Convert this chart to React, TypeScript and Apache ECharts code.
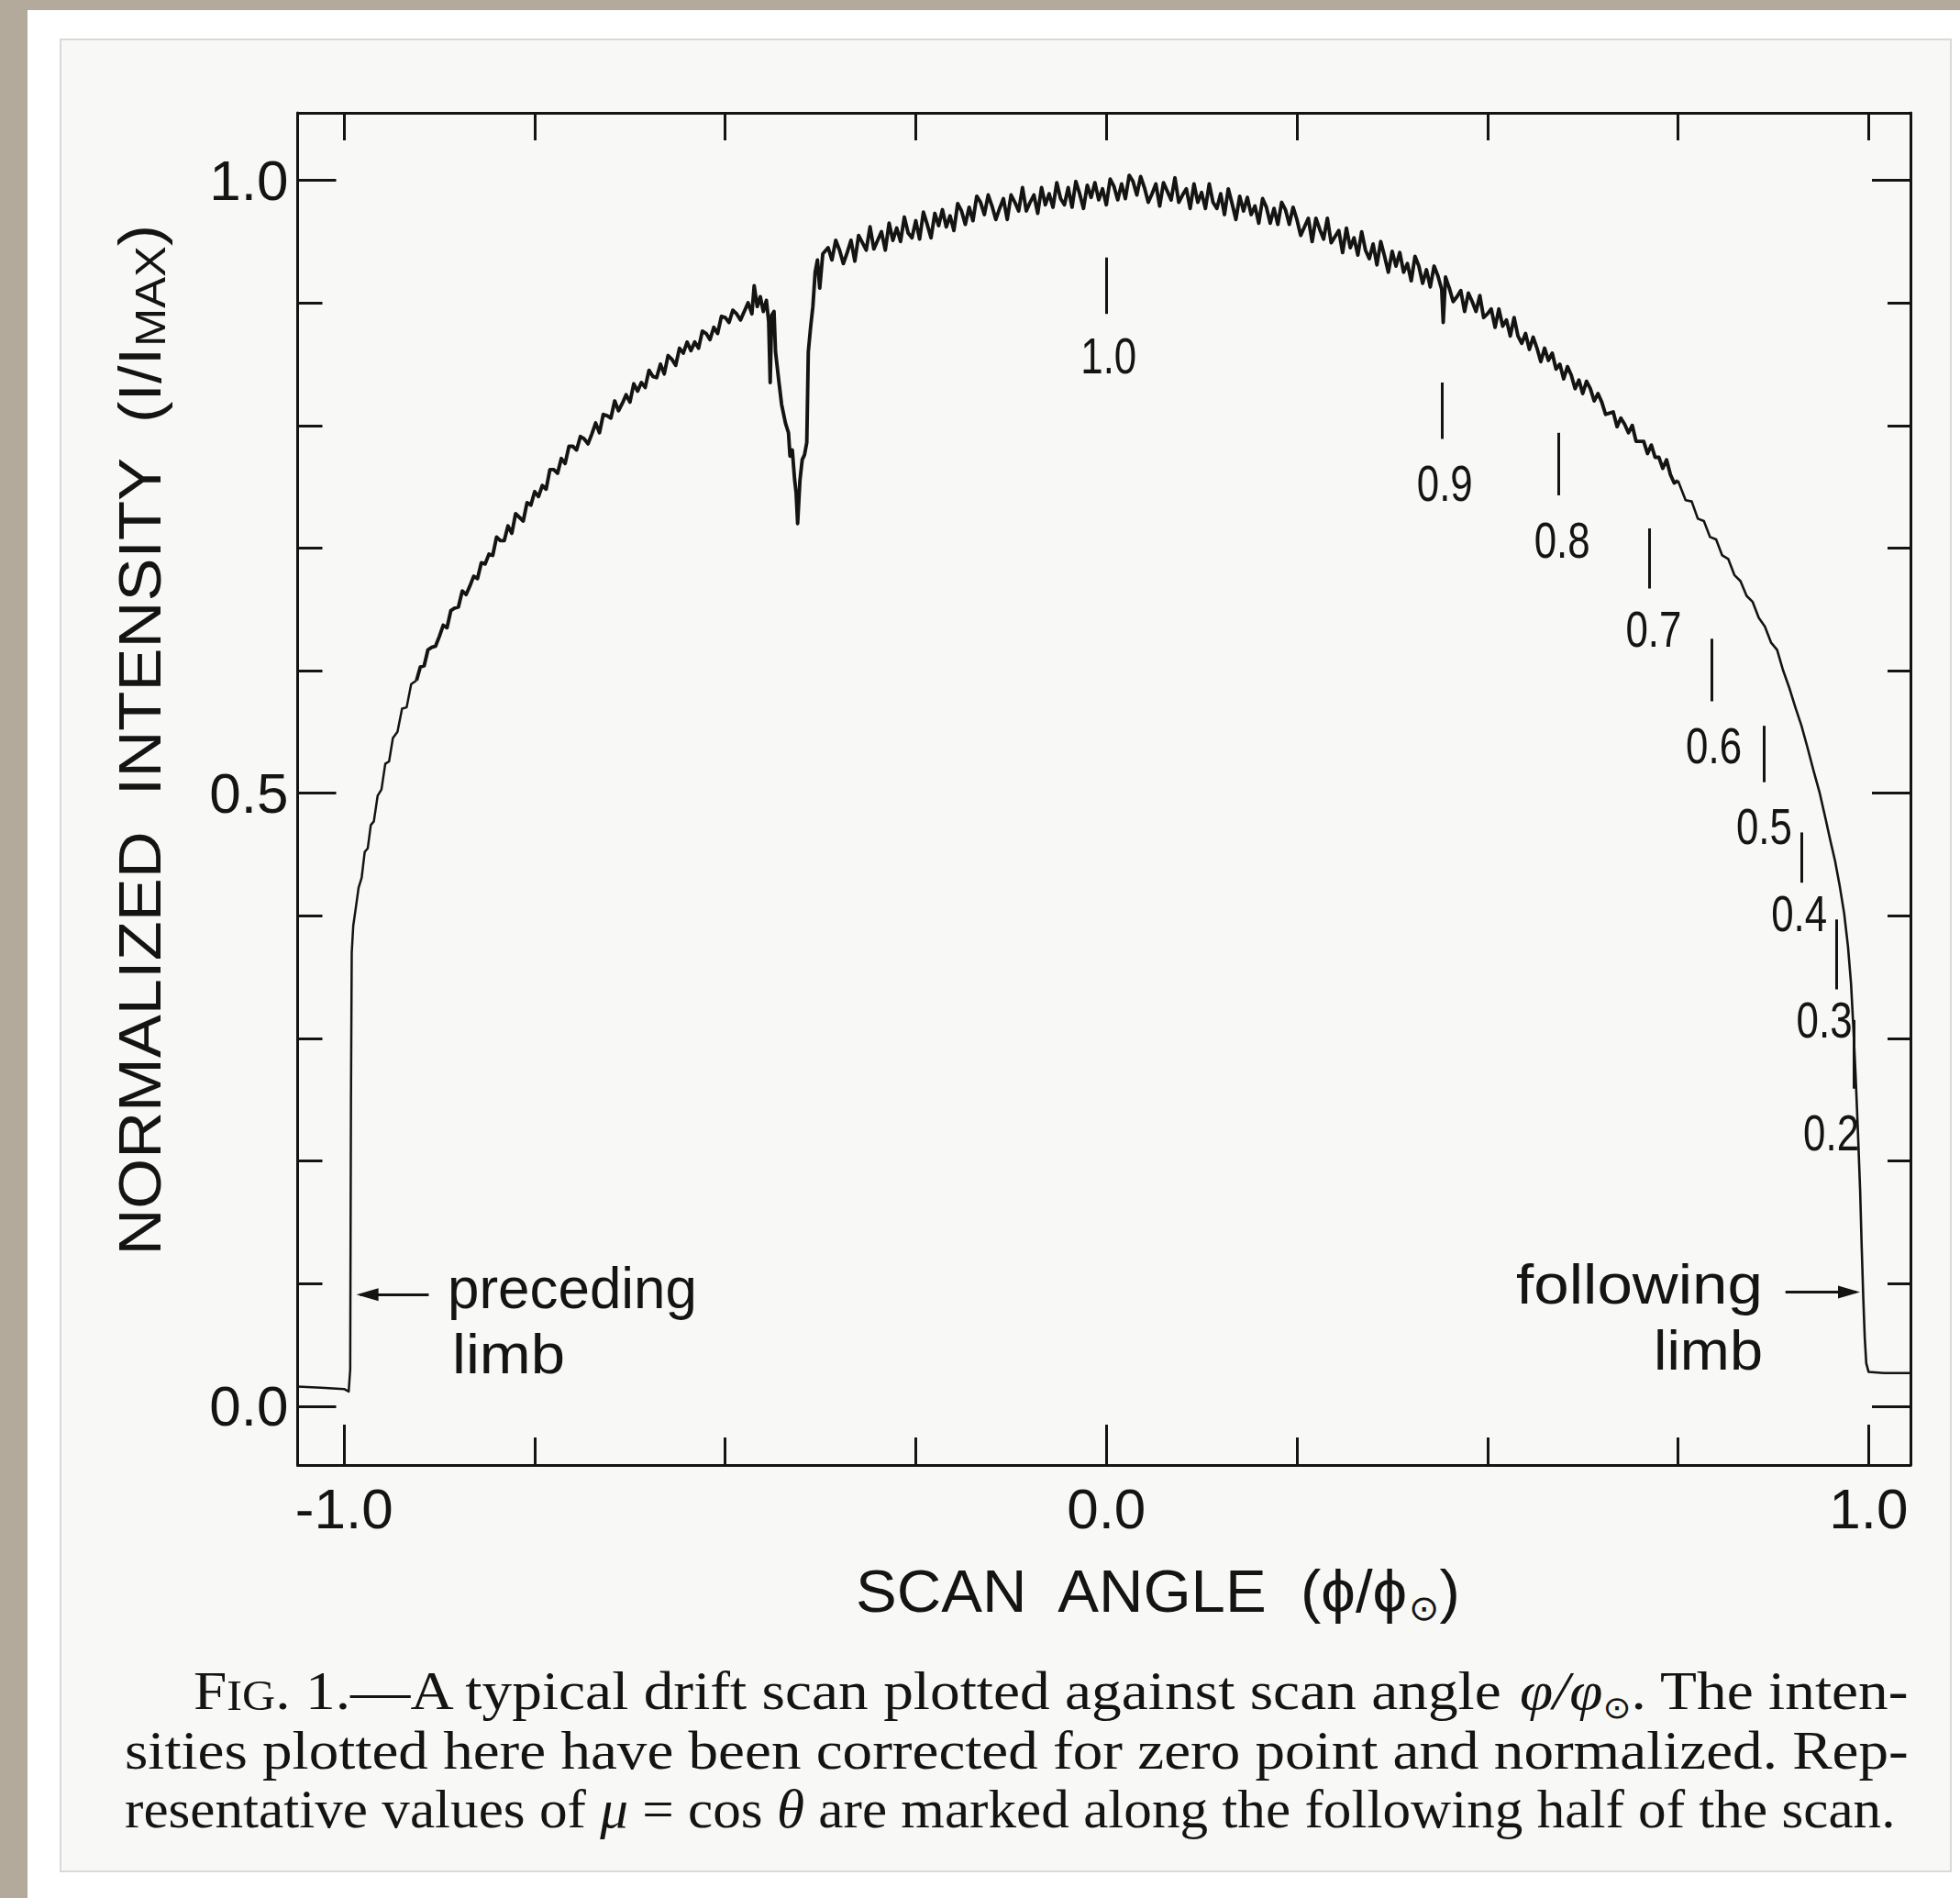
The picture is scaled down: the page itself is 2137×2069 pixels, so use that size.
import React, { useEffect, useRef } from "react";
import * as echarts from "echarts";

const WIDTH = 2137;
const HEIGHT = 2069;

// ---------- axis values ----------
const xRange = [-1.061, 1.055];
const yRange = [-0.048, 1.055];
const xTicksMinor = [-0.75, -0.5, -0.25, 0.25, 0.5, 0.75];
const xTicksMajor = [-1, 0, 1];
const xTicksTop = [-1, -0.75, -0.5, -0.25, 0, 0.25, 0.5, 0.75, 1];
const xLabelValues = [-1, 0, 1];
const yTicksMinor = [0.1, 0.2, 0.3, 0.4, 0.6, 0.7, 0.8, 0.9];
const yTicksMajor = [0, 0.5, 1];
const yLabelValues = [0, 0.5, 1];

// ---------- drift scan (scan angle, normalized intensity) ----------
const westLimb = [
  [-1.061, 0.016], [-1.03, 0.015], [-1.0, 0.014], [-0.994, 0.012], [-0.992, 0.03],
  [-0.991, 0.25], [-0.99, 0.37], [-0.988, 0.392], [-0.985, 0.405], [-0.981, 0.423],
  [-0.977, 0.431], [-0.973, 0.452], [-0.969, 0.455], [-0.965, 0.474], [-0.961, 0.477],
  [-0.956, 0.498], [-0.951, 0.503], [-0.946, 0.524], [-0.941, 0.526], [-0.936, 0.545],
  [-0.93, 0.55], [-0.924, 0.569], [-0.918, 0.57], [-0.912, 0.589], [-0.905, 0.592],
];
const westDisk = [
  [-0.9, 0.603], [-0.895, 0.604], [-0.89, 0.617], [-0.885, 0.619], [-0.88, 0.62],
  [-0.875, 0.628], [-0.87, 0.637], [-0.865, 0.635], [-0.86, 0.649], [-0.855, 0.651],
  [-0.85, 0.652], [-0.845, 0.665], [-0.84, 0.662], [-0.835, 0.669], [-0.83, 0.677],
  [-0.825, 0.675], [-0.82, 0.688], [-0.815, 0.687], [-0.81, 0.695], [-0.805, 0.694],
  [-0.8, 0.709], [-0.795, 0.706], [-0.79, 0.706], [-0.785, 0.718], [-0.78, 0.712],
  [-0.775, 0.728], [-0.77, 0.725], [-0.765, 0.722], [-0.76, 0.737], [-0.755, 0.735],
  [-0.75, 0.746], [-0.745, 0.742], [-0.74, 0.751], [-0.735, 0.748], [-0.73, 0.764],
  [-0.725, 0.764], [-0.72, 0.761], [-0.715, 0.773], [-0.71, 0.769], [-0.705, 0.783],
  [-0.7, 0.783], [-0.695, 0.78], [-0.69, 0.791], [-0.685, 0.789], [-0.68, 0.785],
  [-0.675, 0.793], [-0.67, 0.802], [-0.665, 0.794], [-0.66, 0.809], [-0.655, 0.808],
  [-0.65, 0.806], [-0.645, 0.82], [-0.64, 0.812], [-0.635, 0.818], [-0.63, 0.825],
  [-0.625, 0.819], [-0.62, 0.834], [-0.615, 0.828], [-0.61, 0.835], [-0.605, 0.831],
  [-0.6, 0.845], [-0.595, 0.84], [-0.59, 0.839], [-0.585, 0.85], [-0.58, 0.842],
  [-0.575, 0.857], [-0.57, 0.854], [-0.565, 0.849], [-0.56, 0.863], [-0.555, 0.859],
  [-0.55, 0.868], [-0.545, 0.861], [-0.54, 0.868], [-0.535, 0.863], [-0.53, 0.877],
  [-0.525, 0.875], [-0.52, 0.87], [-0.515, 0.88], [-0.51, 0.875], [-0.505, 0.889],
  [-0.5, 0.888], [-0.495, 0.884], [-0.49, 0.894], [-0.485, 0.891], [-0.48, 0.886],
  [-0.475, 0.893], [-0.47, 0.9], [-0.465, 0.891], [-0.462, 0.914], [-0.458, 0.897],
  [-0.454, 0.905],
];
const spotDip = [
  [-0.45, 0.893], [-0.446, 0.902], [-0.443, 0.885], [-0.441, 0.835], [-0.439, 0.89],
  [-0.436, 0.893], [-0.434, 0.86], [-0.43, 0.838], [-0.426, 0.817], [-0.421, 0.802],
  [-0.417, 0.794], [-0.415, 0.775], [-0.412, 0.78], [-0.409, 0.756], [-0.407, 0.745],
  [-0.405, 0.72], [-0.402, 0.755], [-0.399, 0.772], [-0.396, 0.776], [-0.393, 0.786],
  [-0.391, 0.86], [-0.388, 0.88], [-0.385, 0.897], [-0.382, 0.925], [-0.379, 0.935],
  [-0.376, 0.912], [-0.372, 0.94],
];
const centerDisk = [
  [-0.365, 0.945], [-0.36, 0.935], [-0.355, 0.951], [-0.35, 0.943], [-0.345, 0.932],
  [-0.34, 0.941], [-0.335, 0.951], [-0.33, 0.934], [-0.325, 0.955], [-0.32, 0.949],
  [-0.315, 0.943], [-0.31, 0.962], [-0.305, 0.944], [-0.3, 0.951], [-0.295, 0.958],
  [-0.29, 0.943], [-0.285, 0.965], [-0.28, 0.951], [-0.275, 0.961], [-0.27, 0.95],
  [-0.265, 0.97], [-0.26, 0.957], [-0.255, 0.953], [-0.25, 0.967], [-0.245, 0.952],
  [-0.24, 0.974], [-0.235, 0.964], [-0.23, 0.953], [-0.225, 0.973], [-0.22, 0.963],
  [-0.215, 0.976], [-0.21, 0.962], [-0.205, 0.971], [-0.2, 0.959], [-0.195, 0.981],
  [-0.19, 0.975], [-0.185, 0.964], [-0.18, 0.978], [-0.175, 0.967], [-0.17, 0.987],
  [-0.165, 0.982], [-0.16, 0.972], [-0.155, 0.988], [-0.15, 0.979], [-0.145, 0.968],
  [-0.14, 0.977], [-0.135, 0.985], [-0.13, 0.968], [-0.125, 0.988], [-0.12, 0.982],
  [-0.115, 0.975], [-0.11, 0.994], [-0.105, 0.975], [-0.1, 0.982], [-0.095, 0.988],
  [-0.09, 0.973], [-0.085, 0.994], [-0.08, 0.98], [-0.075, 0.989], [-0.07, 0.978],
  [-0.065, 0.998], [-0.06, 0.985], [-0.055, 0.98], [-0.05, 0.994], [-0.045, 0.978],
  [-0.04, 0.999], [-0.035, 0.989], [-0.03, 0.977], [-0.025, 0.996], [-0.02, 0.986],
  [-0.015, 0.998], [-0.01, 0.984], [-0.005, 0.993], [0.0, 0.98], [0.005, 1.001],
  [0.01, 0.995], [0.015, 0.984], [0.02, 0.997], [0.025, 0.985], [0.03, 1.004],
  [0.035, 0.999], [0.04, 0.988], [0.045, 1.003], [0.05, 0.994], [0.055, 0.982],
  [0.06, 0.989], [0.065, 0.997], [0.07, 0.979], [0.075, 0.998], [0.08, 0.991],
  [0.085, 0.984], [0.09, 1.002], [0.095, 0.982], [0.1, 0.988], [0.105, 0.993],
  [0.11, 0.977], [0.115, 0.997], [0.12, 0.982], [0.125, 0.99], [0.13, 0.977],
  [0.135, 0.997], [0.14, 0.982], [0.145, 0.977], [0.15, 0.989], [0.155, 0.972],
  [0.16, 0.993], [0.165, 0.981], [0.17, 0.968], [0.175, 0.987], [0.18, 0.975],
  [0.185, 0.986], [0.19, 0.972], [0.195, 0.979], [0.2, 0.965], [0.205, 0.985],
  [0.21, 0.978], [0.215, 0.965], [0.22, 0.977], [0.225, 0.964], [0.23, 0.982],
  [0.235, 0.976], [0.24, 0.964], [0.245, 0.978], [0.25, 0.968], [0.255, 0.955],
  [0.26, 0.962], [0.265, 0.969], [0.27, 0.95], [0.275, 0.969], [0.28, 0.96],
  [0.285, 0.952], [0.29, 0.969], [0.295, 0.949], [0.3, 0.954], [0.305, 0.959],
  [0.31, 0.941], [0.315, 0.961], [0.32, 0.945], [0.325, 0.953], [0.33, 0.939],
  [0.335, 0.958], [0.34, 0.943], [0.345, 0.936], [0.35, 0.948], [0.355, 0.931],
  [0.36, 0.95], [0.365, 0.938], [0.37, 0.925], [0.375, 0.942], [0.38, 0.93],
  [0.385, 0.941], [0.39, 0.925], [0.395, 0.932], [0.4, 0.918], [0.405, 0.938],
  [0.41, 0.93], [0.415, 0.916], [0.42, 0.927], [0.425, 0.913], [0.43, 0.93],
];
const eastDisk = [
  [0.435, 0.922], [0.44, 0.911], [0.442, 0.884], [0.445, 0.921], [0.45, 0.912],
  [0.455, 0.901], [0.46, 0.905], [0.465, 0.91], [0.47, 0.893], [0.475, 0.908],
  [0.48, 0.901], [0.485, 0.893], [0.49, 0.906], [0.495, 0.888], [0.5, 0.891],
  [0.505, 0.895], [0.51, 0.88], [0.515, 0.895], [0.52, 0.881], [0.525, 0.886],
  [0.53, 0.873], [0.535, 0.888], [0.54, 0.873], [0.545, 0.867], [0.55, 0.875],
  [0.555, 0.862], [0.56, 0.872], [0.565, 0.863], [0.57, 0.852], [0.575, 0.863],
  [0.58, 0.853], [0.585, 0.859], [0.59, 0.846], [0.595, 0.85], [0.6, 0.838],
  [0.605, 0.848], [0.61, 0.841], [0.615, 0.83], [0.62, 0.837], [0.625, 0.826],
  [0.63, 0.836], [0.635, 0.83], [0.64, 0.82], [0.645, 0.826], [0.65, 0.819],
  [0.655, 0.809], [0.66, 0.81], [0.665, 0.811], [0.67, 0.799], [0.675, 0.806],
  [0.68, 0.801], [0.685, 0.794], [0.69, 0.8], [0.695, 0.787], [0.7, 0.787],
  [0.705, 0.787], [0.71, 0.777], [0.715, 0.784], [0.72, 0.774], [0.725, 0.774],
  [0.73, 0.765], [0.735, 0.772], [0.74, 0.76], [0.745, 0.753], [0.75, 0.755],
];
const eastSlope = [
  [0.76, 0.739], [0.768, 0.738], [0.776, 0.724], [0.784, 0.722], [0.792, 0.709],
  [0.8, 0.707], [0.808, 0.694], [0.816, 0.691], [0.824, 0.678], [0.832, 0.673],
  [0.84, 0.661], [0.848, 0.656], [0.856, 0.643], [0.864, 0.636], [0.872, 0.623],
  [0.88, 0.617], [0.888, 0.6], [0.896, 0.586], [0.904, 0.57], [0.912, 0.555],
  [0.92, 0.537], [0.928, 0.518], [0.936, 0.5], [0.944, 0.478], [0.95, 0.461],
];
const eastLimb = [
  [0.956, 0.445], [0.962, 0.425], [0.968, 0.402], [0.973, 0.375], [0.977, 0.345],
  [0.98, 0.31], [0.983, 0.27], [0.986, 0.225], [0.989, 0.175], [0.991, 0.13],
  [0.993, 0.09], [0.995, 0.056], [0.997, 0.035], [1.0, 0.028], [1.02, 0.027],
  [1.055, 0.027],
];

// ---------- mu = cos(theta) markers ----------
const muNames = ["1.0", "0.9", "0.8", "0.7", "0.6", "0.5", "0.4", "0.3", "0.2"];
const muTickX = [0.0, 0.44, 0.593, 0.712, 0.794, 0.863, 0.912, 0.958, 0.981];
const muTickTop = [0.937, 0.835, 0.794, 0.716, 0.626, 0.555, 0.468, 0.397, 0.315];
const muTickBottom = [0.891, 0.789, 0.743, 0.667, 0.575, 0.509, 0.427, 0.34, 0.259];
const muLabelX = [0.003, 0.444, 0.598, 0.718, 0.797, 0.863, 0.909, 0.942, 0.951];
const muLabelY = [0.857, 0.753, 0.707, 0.634, 0.539, 0.473, 0.402, 0.315, 0.223];

// ---------- limb arrows ----------
const limbArrowTail = [[-0.889, 0.091], [0.891, 0.093]];
const limbArrowTip = [[-0.979, 0.091], [0.984, 0.093]];

// ---------- caption ----------
type Seg = [string, string];
const captionLines: Seg[][] = [
  [["F", "n"], ["IG", "sc"], [". 1.—A typical drift scan plotted against scan angle ", "n"], ["φ/φ", "it"], ["⊙", "sub"], [". The inten-", "n"]],
  [["sities plotted here have been corrected for zero point and normalized. Rep-", "n"]],
  [["resentative values of ", "n"], ["μ", "it"], [" = cos ", "n"], ["θ", "it"], [" are marked along the following half of the scan.", "n"]],
];

const INK = "#141414";

let measureCtx: CanvasRenderingContext2D | null = null;
function measure(text: string, font: string): number {
  if (!measureCtx) measureCtx = document.createElement("canvas").getContext("2d");
  if (!measureCtx) return text.length * 30;
  measureCtx.font = font;
  return measureCtx.measureText(text).width;
}
function segsWidth(segs: Seg[], fonts: Record<string, string>) {
  return segs.reduce((s, [t, k]) => s + measure(t, fonts[k]), 0);
}
function segsRich(segs: Seg[]) {
  return segs.map(([t, k]) => (k === "n" ? t : `{${k}|${t}}`)).join("");
}

export default function App() {
  const ref = useRef<HTMLDivElement>(null);
  useEffect(() => {
    const el = ref.current;
    if (!el) return;
    const chart = echarts.init(el, null, { renderer: "svg", width: WIDTH, height: HEIGHT });

    const frameLine = { show: true, onZero: false, lineStyle: { color: INK, width: 3 } };
    const noLine = { show: false, onZero: false };
    const tickLine = { color: INK, width: 3 };
    const tickFont = { fontFamily: "Liberation Sans", fontSize: 62, color: INK };
    const fmt = (v: number) => v.toFixed(1);

    const noisy = [westLimb[westLimb.length - 1], ...westDisk, ...spotDip, ...centerDisk, ...eastDisk];
    const quiet = [eastDisk[eastDisk.length - 1], ...eastSlope, ...eastLimb];
    const traceSeries = (data: number[][], width: number) => ({
      type: "line", xAxisIndex: 0, yAxisIndex: 0, data,
      showSymbol: false, symbol: "none", smooth: false,
      lineStyle: { color: INK, width, join: "round" }, z: 5,
    });

    chart.setOption({
      animation: false,
      backgroundColor: "#b4aa9b",
      grid: { left: 324.5, top: 123, width: 1758.5, height: 1474 },
      xAxis: [
        {
          type: "value", position: "bottom", min: xRange[0], max: xRange[1],
          axisLine: frameLine, splitLine: { show: false },
          axisTick: { show: true, inside: true, length: 30, lineStyle: tickLine, customValues: xTicksMinor },
          axisLabel: { show: true, customValues: xLabelValues, formatter: fmt, margin: 16, ...tickFont },
        },
        {
          type: "value", position: "bottom", min: xRange[0], max: xRange[1],
          axisLine: noLine, splitLine: { show: false },
          axisTick: { show: true, inside: true, length: 44, lineStyle: tickLine, customValues: xTicksMajor },
          axisLabel: { show: false },
        },
        {
          type: "value", position: "top", min: xRange[0], max: xRange[1],
          axisLine: frameLine, splitLine: { show: false },
          axisTick: { show: true, inside: true, length: 30, lineStyle: tickLine, customValues: xTicksTop },
          axisLabel: { show: false },
        },
      ],
      yAxis: [
        {
          type: "value", position: "left", min: yRange[0], max: yRange[1],
          axisLine: frameLine, splitLine: { show: false },
          axisTick: { show: true, inside: true, length: 27, lineStyle: tickLine, customValues: yTicksMinor },
          axisLabel: { show: true, customValues: yLabelValues, formatter: fmt, margin: 10, ...tickFont },
        },
        {
          type: "value", position: "left", min: yRange[0], max: yRange[1],
          axisLine: noLine, splitLine: { show: false },
          axisTick: { show: true, inside: true, length: 42, lineStyle: tickLine, customValues: yTicksMajor },
          axisLabel: { show: false },
        },
        {
          type: "value", position: "right", min: yRange[0], max: yRange[1],
          axisLine: frameLine, splitLine: { show: false },
          axisTick: { show: true, inside: true, length: 25, lineStyle: tickLine, customValues: yTicksMinor },
          axisLabel: { show: false },
        },
        {
          type: "value", position: "right", min: yRange[0], max: yRange[1],
          axisLine: noLine, splitLine: { show: false },
          axisTick: { show: true, inside: true, length: 42, lineStyle: tickLine, customValues: yTicksMajor },
          axisLabel: { show: false },
        },
      ],
      series: [
        traceSeries(westLimb, 2.5),
        traceSeries(noisy, 3.9),
        traceSeries(quiet, 2.6),
        {
          type: "lines", coordinateSystem: "cartesian2d", xAxisIndex: 0, yAxisIndex: 0,
          data: muTickX.map((x, i) => ({ coords: [[x, muTickTop[i]], [x, muTickBottom[i]]] })),
          lineStyle: { color: INK, width: 3, opacity: 1, curveness: 0 },
          symbol: "none", silent: true, z: 4,
        },
        {
          type: "lines", coordinateSystem: "cartesian2d", xAxisIndex: 0, yAxisIndex: 0,
          data: limbArrowTail.map((t, i) => ({ coords: [t, limbArrowTip[i]] })),
          lineStyle: { color: INK, width: 3, opacity: 1, curveness: 0 },
          symbol: "none", silent: true, z: 4,
        },
      ],
    });

    const toPx = (x: number, y: number) => chart.convertToPixel({ seriesIndex: 0 }, [x, y]) as number[];
    const elements: any[] = [];

    // page backgrounds
    elements.push({ type: "rect", z: -30, shape: { x: 30, y: 11, width: WIDTH - 30, height: HEIGHT - 11 }, style: { fill: "#ffffff" }, silent: true });
    elements.push({ type: "rect", z: -29, shape: { x: 66, y: 43, width: 2061, height: 1997 }, style: { fill: "#f8f9f6", stroke: "#d9d9d9", lineWidth: 2 }, silent: true });

    // arrow heads
    limbArrowTip.forEach((tip, i) => {
      const p = toPx(tip[0], tip[1]);
      const q = toPx(limbArrowTail[i][0], limbArrowTail[i][1]);
      const dir = Math.sign(p[0] - q[0]);
      elements.push({
        type: "polygon", z: 20,
        shape: { points: [[p[0] + dir * 4, p[1]], [p[0] - dir * 20, p[1] - 7], [p[0] - dir * 20, p[1] + 7]] },
        style: { fill: INK },
        silent: true,
      });
    });

    // mu labels (condensed digits)
    const muFont = "56px Liberation Sans";
    const muScale = 61 / measure("0.9", muFont);
    muNames.forEach((name, i) => {
      const p = toPx(muLabelX[i], muLabelY[i]);
      elements.push({
        type: "text", z: 20, x: p[0], y: p[1], scaleX: muScale, scaleY: 1,
        style: { text: name, fontSize: 56, fontFamily: "Liberation Sans", fill: INK, textAlign: "center", textVerticalAlign: "middle", align: "center", verticalAlign: "middle" },
        silent: true,
      });
    });

    // limb annotations
    const annFont = "62px Liberation Sans";
    const ann = [
      { text: "preceding", x: 488, y: 1404, w: 272, align: "left" },
      { text: "limb", x: 493, y: 1476, w: 123, align: "left" },
      { text: "following", x: 1922, y: 1400, w: 269, align: "right" },
      { text: "limb", x: 1922, y: 1472, w: 119, align: "right" },
    ];
    ann.forEach((a) => {
      elements.push({
        type: "text", z: 20, x: a.x, y: a.y, scaleX: a.w / measure(a.text, annFont), scaleY: 1,
        style: { text: a.text, fontSize: 62, fontFamily: "Liberation Sans", fill: INK, textAlign: a.align, textVerticalAlign: "middle", align: a.align, verticalAlign: "middle" },
        silent: true,
      });
    });

    // axis titles
    const titleFonts: Record<string, string> = { n: "64px Liberation Sans", sub: "38px DejaVu Sans", max: "46px Liberation Sans" };
    const xTitle: Seg[] = [["SCAN  ANGLE  (ϕ/ϕ", "n"], ["⊙", "sub"], [")", "n"]];
    elements.push({
      type: "text", z: 20, x: 1261.5, y: 1735, scaleX: 661 / segsWidth(xTitle, titleFonts), scaleY: 1,
      style: {
        text: segsRich(xTitle), fontSize: 64, fontFamily: "Liberation Sans", fill: INK,
        textAlign: "center", textVerticalAlign: "middle", align: "center", verticalAlign: "middle",
        rich: { sub: { fontSize: 38, fontFamily: "DejaVu Sans", fill: INK, padding: [36, 0, 0, 0] } },
      },
      silent: true,
    });
    const yTitle: Seg[] = [["NORMALIZED  INTENSITY  (I/I", "n"], ["MAX", "max"], [")", "n"]];
    elements.push({
      type: "text", z: 20, x: 153, y: 807, rotation: Math.PI / 2, scaleX: 1125 / segsWidth(yTitle, titleFonts), scaleY: 1,
      style: {
        text: segsRich(yTitle), fontSize: 64, fontFamily: "Liberation Sans", fill: INK,
        textAlign: "center", textVerticalAlign: "middle", align: "center", verticalAlign: "middle",
        rich: { max: { fontSize: 46, fontFamily: "Liberation Sans", fill: INK, padding: [22, 0, 0, 0] } },
      },
      silent: true,
    });

    // caption (justified by horizontal scaling of each line)
    const capFonts: Record<string, string> = {
      n: "60px Liberation Serif", sc: "46px Liberation Serif", it: "italic 60px Liberation Serif", sub: "34px DejaVu Sans",
    };
    const capRich = {
      sc: { fontSize: 46, fontFamily: "Liberation Serif", fill: INK, padding: [10, 0, 0, 0] },
      it: { fontSize: 60, fontFamily: "Liberation Serif", fontStyle: "italic", fill: INK },
      sub: { fontSize: 34, fontFamily: "DejaVu Sans", fill: INK, padding: [36, 0, 0, 0] },
    };
    const capBox = [
      { x: 211, right: 2081, y: 1843 },
      { x: 136, right: 2081, y: 1908 },
      { x: 136, right: 2067, y: 1972 },
    ];
    captionLines.forEach((segs, i) => {
      const b = capBox[i];
      elements.push({
        type: "text", z: 20, x: b.x, y: b.y, scaleX: (b.right - b.x) / segsWidth(segs, capFonts), scaleY: 1,
        style: {
          text: segsRich(segs), fontSize: 60, fontFamily: "Liberation Serif", fill: INK,
          textAlign: "left", textVerticalAlign: "middle", align: "left", verticalAlign: "middle", rich: capRich,
        },
        silent: true,
      });
    });

    chart.setOption({ graphic: elements });
    return () => chart.dispose();
  }, []);
  return <div ref={ref} style={{ position: "fixed", left: 0, top: 0, width: WIDTH, height: HEIGHT }} />;
}
